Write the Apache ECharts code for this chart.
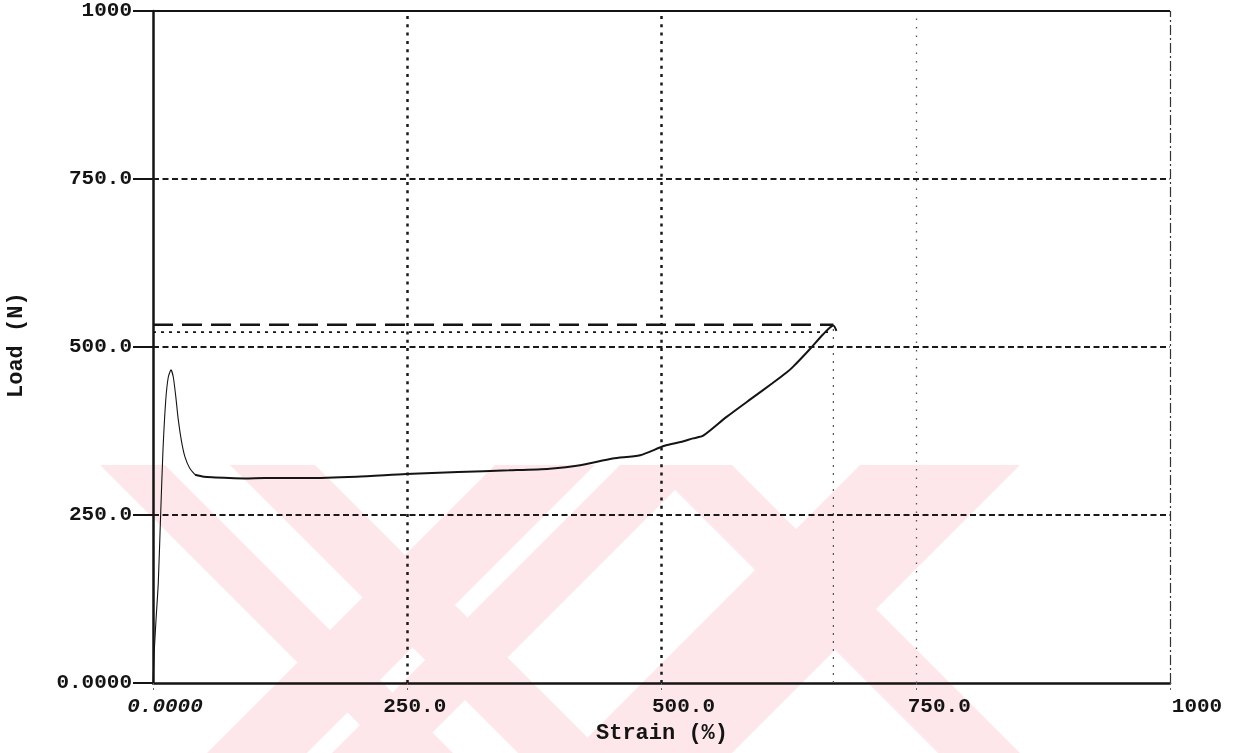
<!DOCTYPE html>
<html>
<head>
<meta charset="utf-8">
<title>Load vs Strain</title>
<script src="https://cdn.jsdelivr.net/npm/echarts@6/dist/echarts.min.js"></script>
<style>
  html, body { margin: 0; padding: 0; background: #ffffff; }
  #chart { width: 1246px; height: 753px; }
</style>
</head>
<body>
<div id="chart"></div>
<script>
// Tensile test record: load against strain
const axisTicks = [0, 250, 500, 750, 1000];

// Yield region (thin trace): strain %, load N
const yieldStrain = [0, 1.3, 3, 5.2, 7.5, 9.8, 12.5, 15, 17.7, 20, 22.5, 24.6, 28, 31.5, 36, 41.3];
const yieldLoad   = [0, 49, 95, 149, 250, 346, 420, 455, 466, 455, 425, 395, 360, 336, 320, 310];

// Drawing and strain-hardening region up to break
const drawStrain = [41.3, 50, 58, 75, 90, 110, 150, 200, 249, 300, 350, 390, 420, 452, 479, 503, 520, 531, 541, 564, 590, 609, 623, 629, 646, 659, 669, 672];
const drawLoad   = [310, 307, 306, 305, 304.5, 305, 305, 307, 311, 314, 316.5, 319, 324, 334, 339, 353, 359, 364, 368, 396, 425, 446, 462, 470, 497, 519, 532, 524];

// Reference levels
const maxLoad = 533;
const breakLoad = 522;
const breakStrain = 669;

const FONT = 'Liberation Mono';
const INK = '#141414';

function pairs(xs, ys) { return xs.map((x, i) => [x, ys[i]]); }

function tickText(v) {
  if (v === 0) return '0.0000';
  if (v === 1000) return '1000';
  return v.toFixed(1);
}

// per-label nudges for the strain labels
const xLabelPad = { 0: 24, 250: 15, 500: 44, 750: 47, 1000: 54 };

const chart = echarts.init(document.getElementById('chart'), null, { renderer: 'canvas' });

// faint diagonal banner behind the plot
const WM = '#fde7eb';
function band(x0, x1, dir) {
  const top = 465, bot = 753, d = (bot - top) * dir;
  return { type: 'polygon', z: -10, silent: true,
    shape: { points: [[x0, top], [x1, top], [x1 + d, bot], [x0 + d, bot]] },
    style: { fill: WM } };
}

const option = {
  backgroundColor: '#ffffff',
  animation: false,
  grid: { left: 153, right: 76, top: 11, bottom: 70, containLabel: false },
  graphic: [
    band(100, 165, 1), band(230, 315, 1), band(495, 595, -1), band(620, 700, -1),
    band(650, 732, 1), band(860, 1020, -1),
    { type: 'text', left: 596, top: 722, z: 10,
      style: { text: 'Strain (%)', font: 'bold 22px "' + FONT + '"', fill: INK } },
    { type: 'text', x: 5, y: 398, rotation: Math.PI / 2, z: 10,
      style: { text: 'Load (N)', font: 'bold 22px "' + FONT + '"', fill: INK } }
  ],
  xAxis: {
    type: 'value', min: 0, max: 1000, interval: 250,
    axisLine: { show: true, onZero: false, lineStyle: { color: INK, width: 2.5 } },
    axisTick: { show: true, length: 10, lineStyle: { color: '#666', width: 1, type: [2, 3] } },
    splitLine: { show: false },
    axisLabel: {
      margin: 13,
      formatter: v => '{p' + v + '|' + tickText(v) + '}',
      rich: Object.fromEntries(axisTicks.map(v => ['p' + v, {
        fontFamily: FONT, fontSize: 21, fontWeight: 'bold', color: INK,
        fontStyle: v === 0 ? 'italic' : 'normal',
        padding: [0, 0, 0, xLabelPad[v]]
      }]))
    }
  },
  yAxis: {
    type: 'value', min: 0, max: 1000, interval: 250,
    axisLine: { show: true, onZero: false, lineStyle: { color: INK, width: 2.5 } },
    axisTick: { show: true, length: 20, lineStyle: { color: INK, width: 2 } },
    splitLine: { show: false },
    axisLabel: {
      margin: 21, formatter: tickText,
      fontFamily: FONT, fontSize: 21, fontWeight: 'bold', color: INK
    }
  },
  series: [
    {
      // grid and frame
      type: 'line', data: [], silent: true, z: 1,
      markLine: {
        silent: true, symbol: 'none', label: { show: false }, animation: false,
        data: [
          { yAxis: 250, lineStyle: { color: '#1a1a1a', width: 2, type: [6, 3.5] } },
          { yAxis: 500, lineStyle: { color: '#1a1a1a', width: 2, type: [6, 3.5] } },
          { yAxis: 750, lineStyle: { color: '#1a1a1a', width: 2, type: [6, 3.5] } },
          { xAxis: 250, lineStyle: { color: '#1a1a1a', width: 2.5, type: [3, 5.3] } },
          { xAxis: 500, lineStyle: { color: '#1a1a1a', width: 2.5, type: [3, 5.3] } },
          { xAxis: 750, lineStyle: { color: '#555', width: 1.3, type: [1.5, 7] } },
          { yAxis: 1000, lineStyle: { color: INK, width: 2.2, type: 'solid' } },
          { xAxis: 1000, lineStyle: { color: '#333', width: 1.2, type: [10, 3, 2, 3] } }
        ]
      }
    },
    {
      // maximum load level
      type: 'line', silent: true, symbol: 'none', z: 3,
      data: [[0, maxLoad], [breakStrain, maxLoad]],
      lineStyle: { color: INK, width: 2.4, type: [20, 9] }
    },
    {
      // load at break level
      type: 'line', silent: true, symbol: 'none', z: 3,
      data: [[0, breakLoad], [breakStrain - 4, breakLoad]],
      lineStyle: { color: INK, width: 1.8, type: [3, 5] }
    },
    {
      // strain at break
      type: 'line', silent: true, symbol: 'none', z: 3,
      data: [[breakStrain, 0], [breakStrain, maxLoad - 3]],
      lineStyle: { color: '#555', width: 1.2, type: [2, 6] }
    },
    {
      type: 'line', silent: true, symbol: 'none', z: 4,
      smooth: 0.2,
      data: pairs(yieldStrain, yieldLoad),
      lineStyle: { color: INK, width: 1.1 }
    },
    {
      type: 'line', silent: true, symbol: 'none', z: 4,
      smooth: 0.25,
      data: pairs(drawStrain, drawLoad),
      lineStyle: { color: INK, width: 2 }
    }
  ]
};

chart.setOption(option);
</script>
</body>
</html>
